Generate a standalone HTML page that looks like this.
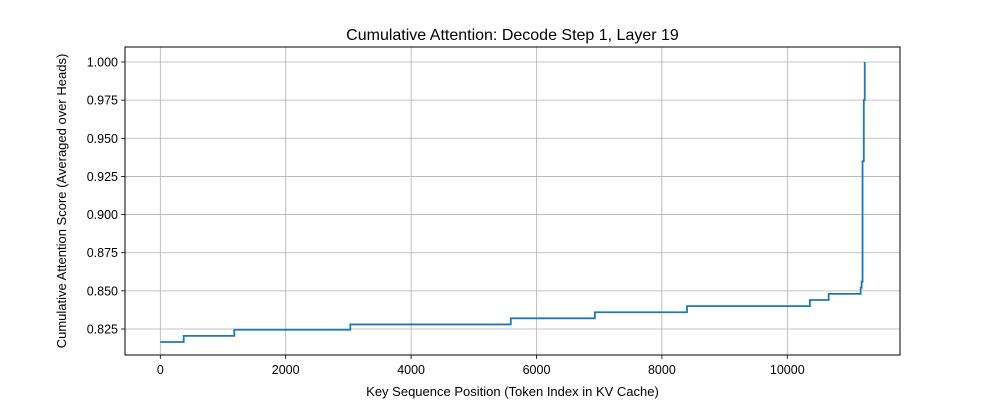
<!DOCTYPE html>
<html><head><meta charset="utf-8"><style>
body{margin:0;background:#fff;}
svg{display:block;font-family:"Liberation Sans","DejaVu Sans",sans-serif;}
</style></head><body>
<svg id="chart" width="1000" height="400"></svg>
<script>
const xTicks=[0,2000,4000,6000,8000,10000];
const yTicks=[0.825,0.850,0.875,0.900,0.925,0.950,0.975,1.000];
const stepX=[0,373,1180,3030,5590,6930,8400,10360,10660,11170,11185,11200,11220,11235];
const stepY=[0.8165,0.8205,0.8245,0.828,0.832,0.836,0.840,0.844,0.848,0.852,0.856,0.935,0.975,1.000];
const L=125,R=900,T=47,B=355;
const sx=v=>160.3+v*(125.4/2000);
const sy=v=>62+(1.0-v)*(267/0.175);
const svg=document.getElementById('chart');
const NS='http://www.w3.org/2000/svg';
function mk(t,a,p){const e=document.createElementNS(NS,t);for(const k in a)e.setAttribute(k,a[k]);(p||svg).appendChild(e);return e;}
const grid=mk('g',{});


xTicks.forEach(v=>{const x=sx(v);
 mk('line',{x1:x,x2:x,y1:T,y2:B,stroke:'#b0b0b0','stroke-width':0.8},grid);
 mk('line',{x1:x,x2:x,y1:B,y2:B+4,stroke:'#000','stroke-width':0.8});
 const t=mk('text',{x:x,y:B+19,'text-anchor':'middle','font-size':12.5,fill:'#000'});t.textContent=v;
 
 });
yTicks.forEach(v=>{const y=sy(v);
 mk('line',{x1:L,x2:R,y1:y,y2:y,stroke:'#b0b0b0','stroke-width':0.8},grid);
 mk('line',{x1:L-4,x2:L,y1:y,y2:y,stroke:'#000','stroke-width':0.8});
 const t=mk('text',{x:L-7,y:y+4.5,'text-anchor':'end','font-size':12.5,fill:'#000'});t.textContent=v.toFixed(3);
 
 });
let d='';
for(let i=0;i<stepX.length;i++){const x=sx(stepX[i]),y=sy(stepY[i]);
 if(i===0)d+='M'+x+','+y;else d+=' H'+x+' V'+y;}
d+=' H'+sx(stepX[stepX.length-1]);
const line=mk('path',{d:d,fill:'none',stroke:'#1f77b4','stroke-width':1.8});


const box=mk('rect',{x:L,y:T,width:R-L,height:B-T,fill:'none',stroke:'#000','stroke-width':1});


const title=mk('text',{x:(L+R)/2,y:40,'text-anchor':'middle','font-size':16,fill:'#000'});
title.textContent='Cumulative Attention: Decode Step 1, Layer 19';


const xl=mk('text',{x:(L+R)/2,y:396,'text-anchor':'middle','font-size':13,fill:'#000'});
xl.textContent='Key Sequence Position (Token Index in KV Cache)';


const yl=mk('text',{x:0,y:0,'text-anchor':'middle','font-size':13,fill:'#000',transform:'translate(66,'+((T+B)/2)+') rotate(-90)'});
yl.textContent='Cumulative Attention Score (Averaged over Heads)';


</script>
</body></html>
